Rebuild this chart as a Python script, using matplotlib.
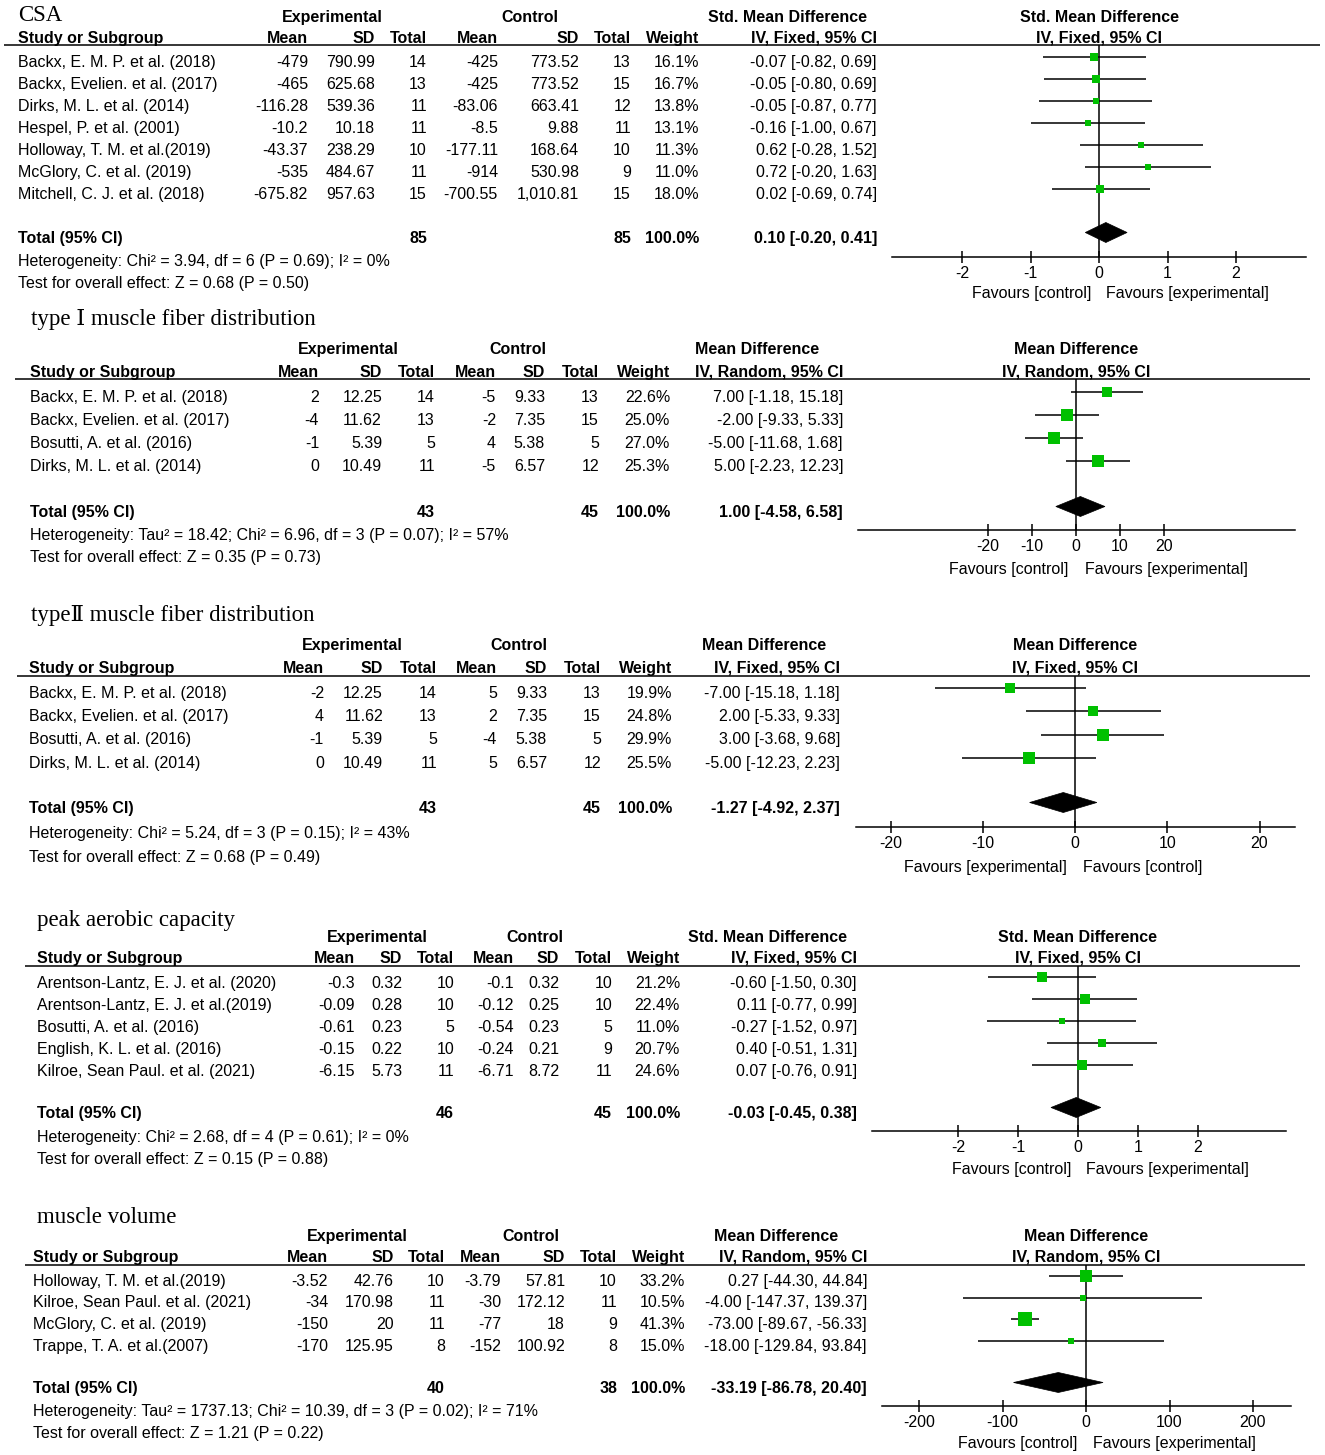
import matplotlib
matplotlib.use('Agg')
import matplotlib.pyplot as plt
from matplotlib.patches import Polygon

plt.rcParams['font.family'] = ['Liberation Sans', 'DejaVu Sans']
SERIF = ['Liberation Serif', 'DejaVu Serif', 'Noto Sans CJK SC']

W, H = 1325, 1455

# ======================= DATA =======================
# ---- CSA ----
csa_names = ["Backx, E. M. P. et al. (2018)", "Backx, Evelien. et al. (2017)", "Dirks, M. L. et al. (2014)",
             "Hespel, P. et al. (2001)", "Holloway, T. M. et al.(2019)", "McGlory, C. et al. (2019)",
             "Mitchell, C. J. et al. (2018)"]
csa_exp_mean = [-479, -465, -116.28, -10.2, -43.37, -535, -675.82]
csa_exp_sd = [790.99, 625.68, 539.36, 10.18, 238.29, 484.67, 957.63]
csa_exp_n = [14, 13, 11, 11, 10, 11, 15]
csa_ctl_mean = [-425, -425, -83.06, -8.5, -177.11, -914, -700.55]
csa_ctl_sd = [773.52, 773.52, 663.41, 9.88, 168.64, 530.98, 1010.81]
csa_ctl_n = [13, 15, 12, 11, 10, 9, 15]
csa_weight = [16.1, 16.7, 13.8, 13.1, 11.3, 11.0, 18.0]
csa_est = [-0.07, -0.05, -0.05, -0.16, 0.62, 0.72, 0.02]
csa_lo = [-0.82, -0.80, -0.87, -1.00, -0.28, -0.20, -0.69]
csa_hi = [0.69, 0.69, 0.77, 0.67, 1.52, 1.63, 0.74]
csa_total = [0.10, -0.20, 0.41]
csa_tot_n = [85, 85]
csa_het = "Heterogeneity: Chi\u00b2 = 3.94, df = 6 (P = 0.69); I\u00b2 = 0%"
csa_test = "Test for overall effect: Z = 0.68 (P = 0.50)"
csa_ticks = [-2, -1, 0, 1, 2]

# ---- type I ----
t1_names = ["Backx, E. M. P. et al. (2018)", "Backx, Evelien. et al. (2017)", "Bosutti, A. et al. (2016)",
            "Dirks, M. L. et al. (2014)"]
t1_exp_mean = [2, -4, -1, 0]
t1_exp_sd = [12.25, 11.62, 5.39, 10.49]
t1_exp_n = [14, 13, 5, 11]
t1_ctl_mean = [-5, -2, 4, -5]
t1_ctl_sd = [9.33, 7.35, 5.38, 6.57]
t1_ctl_n = [13, 15, 5, 12]
t1_weight = [22.6, 25.0, 27.0, 25.3]
t1_est = [7.00, -2.00, -5.00, 5.00]
t1_lo = [-1.18, -9.33, -11.68, -2.23]
t1_hi = [15.18, 5.33, 1.68, 12.23]
t1_total = [1.00, -4.58, 6.58]
t1_tot_n = [43, 45]
t1_het = "Heterogeneity: Tau\u00b2 = 18.42; Chi\u00b2 = 6.96, df = 3 (P = 0.07); I\u00b2 = 57%"
t1_test = "Test for overall effect: Z = 0.35 (P = 0.73)"
t1_ticks = [-20, -10, 0, 10, 20]

# ---- type II ----
t2_names = t1_names
t2_exp_mean = [-2, 4, -1, 0]
t2_exp_sd = [12.25, 11.62, 5.39, 10.49]
t2_exp_n = [14, 13, 5, 11]
t2_ctl_mean = [5, 2, -4, 5]
t2_ctl_sd = [9.33, 7.35, 5.38, 6.57]
t2_ctl_n = [13, 15, 5, 12]
t2_weight = [19.9, 24.8, 29.9, 25.5]
t2_est = [-7.00, 2.00, 3.00, -5.00]
t2_lo = [-15.18, -5.33, -3.68, -12.23]
t2_hi = [1.18, 9.33, 9.68, 2.23]
t2_total = [-1.27, -4.92, 2.37]
t2_tot_n = [43, 45]
t2_het = "Heterogeneity: Chi\u00b2 = 5.24, df = 3 (P = 0.15); I\u00b2 = 43%"
t2_test = "Test for overall effect: Z = 0.68 (P = 0.49)"
t2_ticks = [-20, -10, 0, 10, 20]

# ---- peak aerobic capacity ----
pa_names = ["Arentson-Lantz, E. J. et al. (2020)", "Arentson-Lantz, E. J. et al.(2019)", "Bosutti, A. et al. (2016)",
            "English, K. L. et al. (2016)", "Kilroe, Sean Paul. et al. (2021)"]
pa_exp_mean = [-0.3, -0.09, -0.61, -0.15, -6.15]
pa_exp_sd = [0.32, 0.28, 0.23, 0.22, 5.73]
pa_exp_n = [10, 10, 5, 10, 11]
pa_ctl_mean = [-0.1, -0.12, -0.54, -0.24, -6.71]
pa_ctl_sd = [0.32, 0.25, 0.23, 0.21, 8.72]
pa_ctl_n = [10, 10, 5, 9, 11]
pa_weight = [21.2, 22.4, 11.0, 20.7, 24.6]
pa_est = [-0.60, 0.11, -0.27, 0.40, 0.07]
pa_lo = [-1.50, -0.77, -1.52, -0.51, -0.76]
pa_hi = [0.30, 0.99, 0.97, 1.31, 0.91]
pa_total = [-0.03, -0.45, 0.38]
pa_tot_n = [46, 45]
pa_het = "Heterogeneity: Chi\u00b2 = 2.68, df = 4 (P = 0.61); I\u00b2 = 0%"
pa_test = "Test for overall effect: Z = 0.15 (P = 0.88)"
pa_ticks = [-2, -1, 0, 1, 2]

# ---- muscle volume ----
mv_names = ["Holloway, T. M. et al.(2019)", "Kilroe, Sean Paul. et al. (2021)", "McGlory, C. et al. (2019)",
            "Trappe, T. A. et al.(2007)"]
mv_exp_mean = [-3.52, -34, -150, -170]
mv_exp_sd = [42.76, 170.98, 20, 125.95]
mv_exp_n = [10, 11, 11, 8]
mv_ctl_mean = [-3.79, -30, -77, -152]
mv_ctl_sd = [57.81, 172.12, 18, 100.92]
mv_ctl_n = [10, 11, 9, 8]
mv_weight = [33.2, 10.5, 41.3, 15.0]
mv_est = [0.27, -4.00, -73.00, -18.00]
mv_lo = [-44.30, -147.37, -89.67, -129.84]
mv_hi = [44.84, 139.37, -56.33, 93.84]
mv_total = [-33.19, -86.78, 20.40]
mv_tot_n = [40, 38]
mv_het = "Heterogeneity: Tau\u00b2 = 1737.13; Chi\u00b2 = 10.39, df = 3 (P = 0.02); I\u00b2 = 71%"
mv_test = "Test for overall effect: Z = 1.21 (P = 0.22)"
mv_ticks = [-200, -100, 0, 100, 200]

titles = ["CSA", "type \u2160 muscle fiber distribution", "type\u2161 muscle fiber distribution",
          "peak aerobic capacity", "muscle volume"]
effect_labels = ["Std. Mean Difference", "Mean Difference", "Mean Difference", "Std. Mean Difference", "Mean Difference"]
method_labels = ["IV, Fixed, 95% CI", "IV, Random, 95% CI", "IV, Fixed, 95% CI", "IV, Fixed, 95% CI", "IV, Random, 95% CI"]
fav_left = ["Favours [control]", "Favours [control]", "Favours [experimental]", "Favours [control]", "Favours [control]"]
fav_right = ["Favours [experimental]", "Favours [experimental]", "Favours [control]", "Favours [experimental]",
             "Favours [experimental]"]

def mk(names, em, es, en, cm, cs, cn, w, est, lo, hi, tot, totn, het, test, ticks):
    return dict(names=names, em=em, es=es, en=en, cm=cm, cs=cs, cn=cn, w=w, est=est, lo=lo, hi=hi,
                tot=tot, totn=totn, het=het, test=test, ticks=ticks)

panels = [
    mk(csa_names, csa_exp_mean, csa_exp_sd, csa_exp_n, csa_ctl_mean, csa_ctl_sd, csa_ctl_n, csa_weight,
       csa_est, csa_lo, csa_hi, csa_total, csa_tot_n, csa_het, csa_test, csa_ticks),
    mk(t1_names, t1_exp_mean, t1_exp_sd, t1_exp_n, t1_ctl_mean, t1_ctl_sd, t1_ctl_n, t1_weight,
       t1_est, t1_lo, t1_hi, t1_total, t1_tot_n, t1_het, t1_test, t1_ticks),
    mk(t2_names, t2_exp_mean, t2_exp_sd, t2_exp_n, t2_ctl_mean, t2_ctl_sd, t2_ctl_n, t2_weight,
       t2_est, t2_lo, t2_hi, t2_total, t2_tot_n, t2_het, t2_test, t2_ticks),
    mk(pa_names, pa_exp_mean, pa_exp_sd, pa_exp_n, pa_ctl_mean, pa_ctl_sd, pa_ctl_n, pa_weight,
       pa_est, pa_lo, pa_hi, pa_total, pa_tot_n, pa_het, pa_test, pa_ticks),
    mk(mv_names, mv_exp_mean, mv_exp_sd, mv_exp_n, mv_ctl_mean, mv_ctl_sd, mv_ctl_n, mv_weight,
       mv_est, mv_lo, mv_hi, mv_total, mv_tot_n, mv_het, mv_test, mv_ticks),
]

# ======================= LAYOUT (pixels) =======================
layouts = [
    dict(title=(18, 13), h1=16, h2=37, line=45, lx=(4, 1320), r0=61, dr=22, tot=237, het=260, test=282,
         nx=18, cols=[308, 375, 427, 498, 579, 631, 699, 877], ec=332, cc=530, mc=788,
         fx=(892, 1306), zero=1099, tpx=1236, axis=257, fav=292, fl=1091, fr=1106, moff=4, b=0.95),
    dict(title=(31, 317), h1=348, h2=371, line=379, lx=(15, 1310), r0=396, dr=23, tot=511, het=534, test=556,
         nx=30, cols=[319, 382, 435, 496, 545, 599, 670, 843], ec=348, cc=518, mc=757,
         fx=(858, 1295), zero=1076, tpx=1164, axis=530, fav=568, fl=1068, fr=1085, moff=4, b=1.0),
    dict(title=(31, 613), h1=644, h2=667, line=676, lx=(17, 1310), r0=692, dr=23.3, tot=807, het=832, test=856,
         nx=29, cols=[324, 383, 437, 497, 547, 601, 672, 840], ec=352, cc=519, mc=764,
         fx=(856, 1295), zero=1075, tpx=1259.5, axis=827, fav=866, fl=1067, fr=1083, moff=4, b=0.97),
    dict(title=(37, 918), h1=936, h2=957, line=966, lx=(25, 1300), r0=982, dr=22, tot=1112, het=1136, test=1158,
         nx=37, cols=[355, 402, 454, 514, 559, 612, 680, 857], ec=377, cc=535, mc=768,
         fx=(872, 1286), zero=1078, tpx=1198, axis=1131, fav=1168, fl=1071, fr=1086, moff=5, b=0.92),
    dict(title=(37, 1215), h1=1235, h2=1256, line=1265, lx=(25, 1305), r0=1280, dr=21.7, tot=1387, het=1410,
         test=1432, nx=33, cols=[328, 394, 445, 501, 565, 617, 685, 867], ec=357, cc=531, mc=776,
         fx=(882, 1291), zero=1086, tpx=1253, axis=1406, fav=1442, fl=1077, fr=1093, moff=4, b=0.88),
]

FS = 11.5
TFS = 16.5
GREEN = '#00C000'
LW = 1.1

fig = plt.figure(figsize=(W / 100, H / 100), dpi=100)
base = fig.add_axes([0, 0, 1, 1])
base.set_xlim(0, W)
base.set_ylim(H, 0)
base.axis('off')


def txt(x, y, s, ha='left', bold=False, size=FS):
    base.text(x, y + size * 100 / 72 * 0.358, s, ha=ha, va='baseline', fontsize=size,
              fontweight='bold' if bold else 'normal', color='black')


def fmt(v):
    return f"{v:,}"


for k, (P, L) in enumerate(zip(panels, layouts)):
    # title
    tx, ty = L['title']
    base.text(tx, ty + TFS * 100 / 72 * 0.33, titles[k], ha='left', va='baseline', fontsize=TFS,
              family=SERIF, color='black')
    # headers
    txt(L['ec'], L['h1'], "Experimental", ha='center', bold=True)
    txt(L['cc'], L['h1'], "Control", ha='center', bold=True)
    txt(L['mc'], L['h1'], effect_labels[k], ha='center', bold=True)
    txt(L['zero'], L['h1'], effect_labels[k], ha='center', bold=True)
    txt(L['nx'], L['h2'], "Study or Subgroup", bold=True)
    for c, lab in zip(L['cols'][:7], ["Mean", "SD", "Total", "Mean", "SD", "Total", "Weight"]):
        txt(c, L['h2'], lab, ha='right', bold=True)
    txt(L['cols'][7], L['h2'], method_labels[k], ha='right', bold=True)
    txt(L['zero'], L['h2'], method_labels[k], ha='center', bold=True)
    base.hlines(L['line'], L['lx'][0], L['lx'][1], color='black', lw=LW)

    # rows
    n = len(P['names'])
    for i in range(n):
        y = L['r0'] + i * L['dr']
        txt(L['nx'], y, P['names'][i])
        vals = [fmt(P['em'][i]), fmt(P['es'][i]), fmt(P['en'][i]), fmt(P['cm'][i]), fmt(P['cs'][i]),
                fmt(P['cn'][i]), f"{P['w'][i]:.1f}%",
                f"{P['est'][i]:.2f} [{P['lo'][i]:.2f}, {P['hi'][i]:.2f}]"]
        for c, v in zip(L['cols'], vals):
            txt(c, y, v, ha='right')

    # total
    te, tl, th = P['tot']
    txt(L['nx'], L['tot'], "Total (95% CI)", bold=True)
    txt(L['cols'][2], L['tot'], str(P['totn'][0]), ha='right', bold=True)
    txt(L['cols'][5], L['tot'], str(P['totn'][1]), ha='right', bold=True)
    txt(L['cols'][6], L['tot'], "100.0%", ha='right', bold=True)
    txt(L['cols'][7], L['tot'], f"{te:.2f} [{tl:.2f}, {th:.2f}]", ha='right', bold=True)
    txt(L['nx'], L['het'], P['het'])
    txt(L['nx'], L['test'], P['test'])

    # forest plot
    x0, x1 = L['fx']
    top, bot = L['line'], L['axis']
    ax = fig.add_axes([x0 / W, 1 - bot / H, (x1 - x0) / W, (bot - top) / H])
    ax.patch.set_alpha(0)
    scale = (L['tpx'] - L['zero']) / P['ticks'][-1]
    ax.set_xlim((x0 - L['zero']) / scale, (x1 - L['zero']) / scale)
    ax.set_ylim(bot, top)
    for s in ['top', 'left', 'right']:
        ax.spines[s].set_visible(False)
    ax.spines['bottom'].set_linewidth(LW)
    ax.set_yticks([])
    ax.set_xticks(P['ticks'])
    ax.set_xticklabels([f"{t:g}" for t in P['ticks']])
    ax.tick_params(axis='x', direction='inout', length=9, width=LW, labelsize=FS, pad=2)
    ax.axvline(0, color='black', lw=LW)
    ys = [L['r0'] + i * L['dr'] - L['moff'] for i in range(n)]
    ax.hlines(ys, P['lo'], P['hi'], color='black', lw=LW, clip_on=False)
    for y, e, w in zip(ys, P['est'], P['w']):
        ax.plot(e, y, marker='s', ms=L['b'] * w ** 0.75 * 0.72, color=GREEN, mec=GREEN, mew=0,
                clip_on=False, zorder=5)
    yc = L['tot'] - 4.5
    hh = 10
    ax.add_patch(Polygon([(tl, yc), (te, yc - hh), (th, yc), (te, yc + hh)], closed=True,
                         facecolor='black', edgecolor='black', lw=0.5, zorder=5, clip_on=False))

    # favours
    txt(L['fl'], L['fav'], fav_left[k], ha='right')
    txt(L['fr'], L['fav'], fav_right[k], ha='left')

fig.savefig('out.png', dpi=100, facecolor='white')
